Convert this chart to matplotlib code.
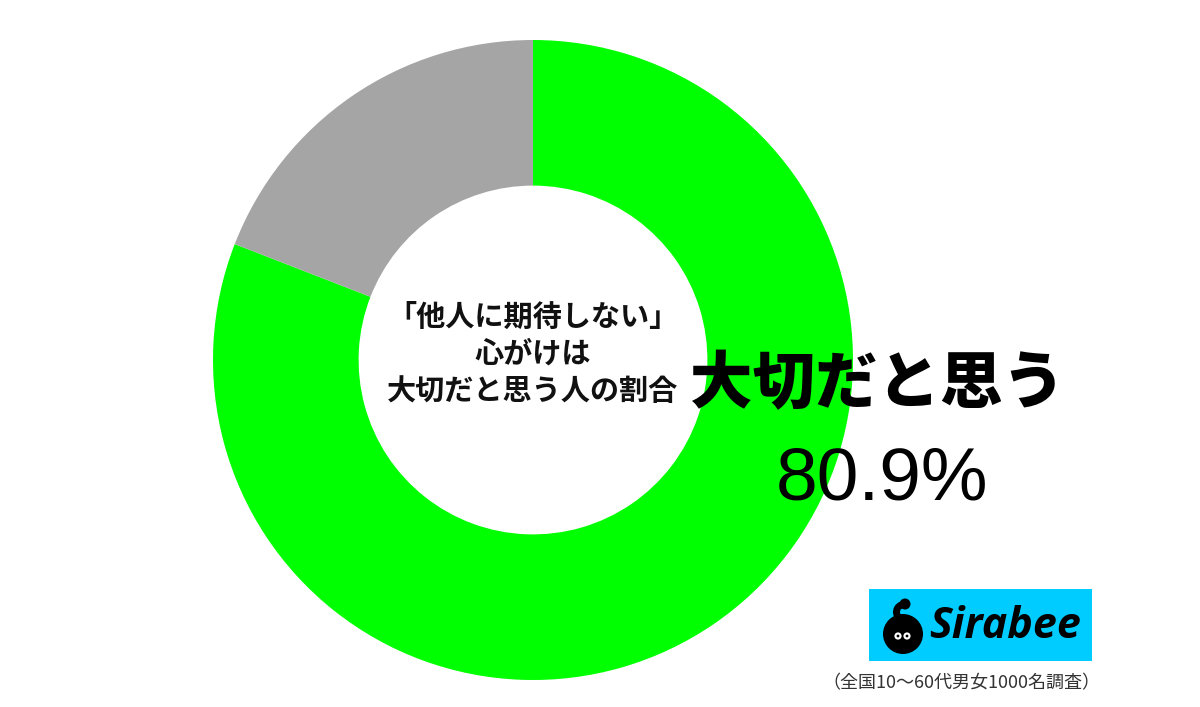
import matplotlib
matplotlib.use("Agg")
import matplotlib.pyplot as plt
from matplotlib.patches import Rectangle, Circle, Wedge

plt.rcParams['font.family'] = ['Noto Sans CJK JP', 'DejaVu Sans']

# data
labels = ['大切だと思う', '思わない']
values = [80.9, 19.1]
colors = ['#00ff00', '#a5a5a5']

center_title = '「他人に期待しない」\n心がけは\n大切だと思う人の割合'
main_label = '大切だと思う'
main_value = '80.9%'
source = '（全国10〜60代男女1000名調査）'

W, H = 1200, 707
fig = plt.figure(figsize=(W / 100, H / 100), dpi=100)


def fx(x):
    return x / W


def fy(y):
    return 1 - y / H


# donut
cx, cy, r = 533, 360, 320
ax = fig.add_axes([fx(cx - r), fy(cy + r), 2 * r / W, 2 * r / H])
ax.pie(values, colors=colors, startangle=90, counterclock=False,
       wedgeprops=dict(width=0.455, linewidth=0))
ax.set_xlim(-1, 1)
ax.set_ylim(-1, 1)
ax.set_aspect('equal')
ax.axis('off')

# overlay in pixel coords for texts and the logo
ov = fig.add_axes([0, 0, 1, 1])
ov.set_xlim(0, W)
ov.set_ylim(H, 0)
ov.axis('off')

# text in the hole
ov.text(533, 354, center_title, ha='center', va='center',
        fontsize=21, fontweight='bold', linespacing=1.28, color='#111111')

# big label
ov.text(878, 384, main_label, ha='center', va='center',
        fontsize=45, fontweight='heavy', color='black')
ov.text(882, 480, main_value, ha='center', va='center',
        fontsize=54, family=['Liberation Sans', 'DejaVu Sans'], color='black')

# logo
ov.add_patch(Rectangle((869, 589), 1092 - 869, 661 - 589,
                       facecolor='#00ccff', edgecolor='none'))
ov.add_patch(Circle((903, 634), 20, facecolor='black', edgecolor='none'))
ov.add_patch(Wedge((904, 612), 11, 90, 250, width=7,
                   facecolor='black', edgecolor='none'))
ov.add_patch(Circle((905, 604), 5.5, facecolor='black', edgecolor='none'))
for ex in (898, 907):
    ov.add_patch(Circle((ex, 636), 3.6, facecolor='white', edgecolor='none'))
    ov.add_patch(Circle((ex, 636), 1.4, facecolor='black', edgecolor='none'))
ov.text(1005, 627, 'Sirabee', ha='center', va='center', fontsize=31,
        fontweight='bold', fontstyle='italic', family='Open Sans', color='black')

ov.text(961, 683, source, ha='center', va='center', fontsize=13,
        color='#333333')

fig.savefig('out.png', dpi=100, facecolor='white')
